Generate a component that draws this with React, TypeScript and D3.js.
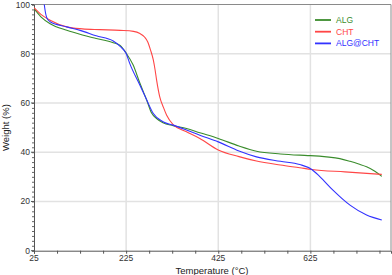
import React, { useRef, useEffect } from "react";
import * as d3 from "d3";

// TGA curves
const algT = [25, 40, 60, 96, 130, 160, 197, 212, 225, 240, 255, 270, 280, 291, 305, 327, 356, 385, 425, 470, 508, 560, 602, 625, 660, 689, 711, 730, 747, 765, 780];
const algW = [98.3, 95, 92.2, 89.5, 87.6, 86.2, 84.5, 83.4, 80.3, 75.5, 68, 61, 56, 53.7, 52, 50.8, 49.6, 47.9, 45.6, 42.5, 40.4, 39.3, 38.8, 38.6, 38.1, 37.4, 36.3, 35.2, 34.1, 32.3, 30.2];

const chtT = [25, 40, 60, 96, 130, 168, 212, 241, 255, 265, 272, 278, 284, 288, 291, 298, 306, 313, 327, 356, 385, 425, 470, 508, 560, 602, 628, 700, 780];
const chtW = [98.7, 96, 93.6, 90.9, 90.1, 89.8, 89.5, 89.1, 88.2, 86.8, 84.8, 81.5, 77.5, 73.3, 69.5, 62.5, 58.2, 55, 51.2, 48.3, 45.6, 40.9, 38.2, 36.4, 34.8, 33.7, 33, 32, 31.0];

const mixT = [44, 48, 53, 60, 96, 125, 160, 197, 212, 225, 233, 255, 270, 284, 306, 327, 356, 385, 425, 470, 508, 560, 602, 628, 646, 674, 711, 747, 780];
const mixW = [106, 99, 94.5, 93, 90.9, 89.5, 87.3, 85.2, 83, 80.1, 76, 67.2, 61.1, 55.7, 52.3, 51, 49, 46.9, 44.2, 40.5, 38.1, 36.3, 35, 33, 30, 24.6, 18.5, 14.5, 12.5];

const seriesNames = ["ALG", "CHT", "ALG@CHT"];
const seriesColors = ["#3a8c2c", "#ff4646", "#3232ff"];

const xTicks = [25, 225, 425, 625];
const yTicks = [0, 20, 40, 60, 80, 100];

const App: React.FC = () => {
  const svgRef = useRef<SVGSVGElement>(null);

  useEffect(() => {
    if (!svgRef.current) return;
    const svg = d3.select(svgRef.current);
    svg.selectAll("*").remove();

    const left = 34, right = 391, top = 4.5, bottom = 250.7;
    const x = d3.scaleLinear().domain([25, 800]).range([left, right]);
    const y = d3.scaleLinear().domain([0, 100]).range([bottom, top]);
    const font = "'Liberation Sans', Arial, sans-serif";

    svg.append("defs").append("clipPath").attr("id", "plotclip")
      .append("rect").attr("x", left).attr("y", top).attr("width", right - left).attr("height", bottom - top);

    // grid
    const grid = svg.append("g").attr("stroke", "#e2e2e2").attr("stroke-width", 1.5);
    xTicks.slice(1).forEach((t) => {
      grid.append("line").attr("x1", x(t)).attr("x2", x(t)).attr("y1", top).attr("y2", bottom);
    });
    yTicks.slice(1, -1).forEach((t) => {
      grid.append("line").attr("x1", left).attr("x2", right).attr("y1", y(t)).attr("y2", y(t));
    });

    // frame
    svg.append("path")
      .attr("d", `M${left},${top}H${right}V${bottom}`)
      .attr("fill", "none").attr("stroke", "#8a8a8a").attr("stroke-width", 1);

    // axes
    const xAxis = svg.append("g").attr("transform", `translate(0,${bottom})`)
      .call(d3.axisBottom(x).tickValues(d3.range(25, 801, 50)).tickSize(3).tickFormat(() => ""));
    xAxis.select(".domain").attr("stroke", "#555");
    xAxis.selectAll(".tick line").attr("stroke", "#555");
    xTicks.forEach((t) => {
      svg.append("text").attr("x", x(t)).attr("y", bottom + 10.5).attr("text-anchor", "middle")
        .attr("font-family", font).attr("font-size", 8.5).attr("fill", "#333").text(t);
    });

    const yAxis = svg.append("g").attr("transform", `translate(${left},0)`)
      .call(d3.axisLeft(y).tickValues(d3.range(0, 101, 2)).tickSize(2).tickFormat(() => ""));
    yAxis.select(".domain").attr("stroke", "#555");
    yAxis.selectAll(".tick line").attr("stroke", "#666");
    yTicks.forEach((t) => {
      svg.append("line").attr("x1", left - 3).attr("x2", left).attr("y1", y(t)).attr("y2", y(t)).attr("stroke", "#555");
      svg.append("text").attr("x", left - 4).attr("y", y(t) + 3).attr("text-anchor", "end")
        .attr("font-family", font).attr("font-size", 8.5).attr("fill", "#333").text(t);
    });

    svg.append("text").attr("x", 212).attr("y", 273.5).attr("text-anchor", "middle")
      .attr("font-family", font).attr("font-size", 9.5).attr("fill", "#222").text("Temperature (°C)");
    svg.append("text").attr("transform", `translate(9,${(top + bottom) / 2}) rotate(-90)`)
      .attr("text-anchor", "middle").attr("font-family", font).attr("font-size", 9.5).attr("fill", "#222")
      .text("Weight (%)");

    // curves
    const line = d3.line<[number, number]>()
      .x((d) => x(d[0])).y((d) => y(d[1])).curve(d3.curveMonotoneX);
    const data: [number, number][][] = [
      algT.map((t, i) => [t, algW[i]]),
      chtT.map((t, i) => [t, chtW[i]]),
      mixT.map((t, i) => [t, mixW[i]]),
    ];
    const plot = svg.append("g").attr("clip-path", "url(#plotclip)");
    data.forEach((d, i) => {
      plot.append("path").datum(d).attr("d", line).attr("fill", "none")
        .attr("stroke", seriesColors[i]).attr("stroke-width", 1.1);
    });

    // legend
    seriesNames.forEach((name, i) => {
      const ly = 20 + i * 11.7;
      svg.append("line").attr("x1", 315).attr("x2", 331).attr("y1", ly).attr("y2", ly)
        .attr("stroke", seriesColors[i]).attr("stroke-width", 1.8);
      svg.append("text").attr("x", 336).attr("y", ly + 3).attr("font-family", font)
        .attr("font-size", 8.5).attr("fill", seriesColors[i]).text(name);
    });

    return () => {
      svg.selectAll("*").remove();
    };
  }, []);

  return (
    <svg ref={svgRef} width={392} height={275}
      style={{ position: "absolute", left: 0, top: 0, background: "#fff" }} />
  );
};

export default App;
